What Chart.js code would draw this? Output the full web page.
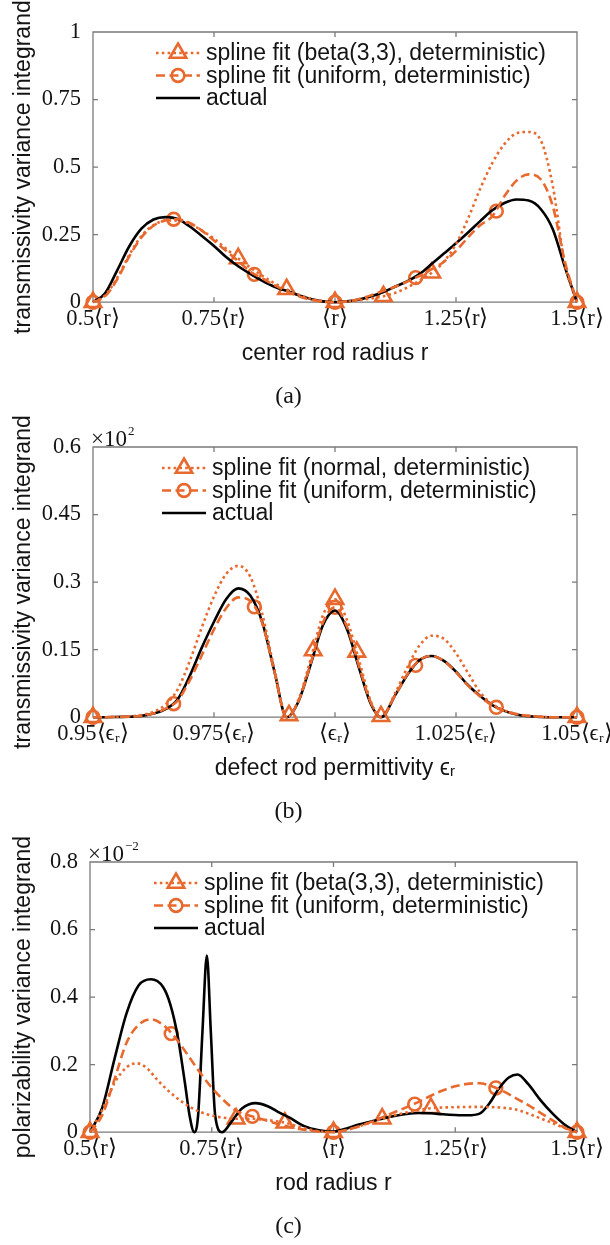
<!DOCTYPE html>
<html>
<head>
<meta charset="utf-8">
<script src="https://cdn.jsdelivr.net/npm/chart.js@4.4.1/dist/chart.umd.min.js"></script>
<style>
  html, body { margin: 0; padding: 0; background: #ffffff; }
  canvas { display: block; }
</style>
</head>
<body>
<canvas id="panelA" width="610" height="415"></canvas>
<canvas id="panelB" width="610" height="415"></canvas>
<canvas id="panelC" width="610" height="415"></canvas>
<script>
// ---------- (a) transmissivity vs. center rod radius ----------
const aRadius = [0.500,0.525,0.550,0.575,0.600,0.625,0.650,0.675,0.700,0.725,0.750,0.775,0.800,0.825,0.850,0.875,0.900,0.925,0.950,0.975,1.000,1.025,1.050,1.075,1.100,1.125,1.150,1.175,1.200,1.225,1.250,1.275,1.300,1.325,1.350,1.375,1.400,1.425,1.450,1.475,1.500];
const aActual = [0,0.033,0.118,0.207,0.272,0.306,0.315,0.308,0.280,0.245,0.208,0.167,0.133,0.105,0.079,0.057,0.042,0.026,0.012,0.003,0,0.003,0.010,0.022,0.038,0.058,0.078,0.105,0.142,0.180,0.218,0.258,0.300,0.340,0.367,0.380,0.376,0.345,0.270,0.130,0];
const aBetaFit = [0,0.025,0.090,0.175,0.245,0.285,0.302,0.303,0.290,0.265,0.235,0.198,0.162,0.128,0.098,0.070,0.048,0.028,0.013,0.004,0,0.002,0.007,0.014,0.022,0.035,0.055,0.080,0.109,0.150,0.215,0.310,0.420,0.515,0.585,0.625,0.630,0.600,0.430,0.140,0];
const aUniformFit = [0,0.022,0.085,0.170,0.240,0.283,0.303,0.307,0.293,0.265,0.228,0.190,0.152,0.113,0.088,0.063,0.041,0.022,0.009,0.002,0,0.003,0.012,0.026,0.042,0.058,0.077,0.098,0.122,0.150,0.190,0.240,0.285,0.318,0.392,0.450,0.473,0.455,0.355,0.150,0];
const aBetaNodes = [0.5,0.8,0.9,1.0,1.1,1.2,1.5];
const aBetaNodeValues = [0,0.162,0.048,0,0.022,0.109,0];
const aUniformNodes = [0.5,0.666667,0.833333,1.0,1.166667,1.333333,1.5];
const aUniformNodeValues = [0,0.307,0.103,0,0.091,0.337,0];
const aXTicks = [0.5,0.75,1,1.25,1.5];
const aXTickLabels = ['0.5⟨r⟩','0.75⟨r⟩','⟨r⟩','1.25⟨r⟩','1.5⟨r⟩'];
const aYTicks = [0,0.25,0.5,0.75,1];
const aYTickLabels = ['0','0.25','0.5','0.75','1'];

// ---------- (b) transmissivity vs. defect rod permittivity (×10²) ----------
const bPermittivity = [0.9500,0.9525,0.9550,0.9575,0.9600,0.9625,0.9650,0.9675,0.9700,0.9725,0.9750,0.9775,0.9800,0.9825,0.9850,0.9875,0.9900,0.9925,0.9950,0.9975,1.0000,1.0025,1.0050,1.0075,1.0095,1.0125,1.0150,1.0175,1.0200,1.0225,1.0250,1.0275,1.0300,1.0325,1.0350,1.0375,1.0400,1.0425,1.0450,1.0475,1.0500];
const bActual = [0,0,0.0005,0.001,0.003,0.008,0.018,0.040,0.092,0.155,0.212,0.262,0.286,0.270,0.210,0.101,0,0.036,0.118,0.204,0.237,0.195,0.108,0.027,0,0.050,0.095,0.127,0.136,0.125,0.101,0.071,0.047,0.027,0.014,0.006,0.002,0.0005,0,0,0];
const bNormalFit = [0,0,0.001,0.002,0.005,0.012,0.028,0.062,0.125,0.200,0.268,0.318,0.336,0.312,0.228,0.105,0,0.040,0.130,0.226,0.262,0.215,0.125,0.032,0,0.055,0.112,0.160,0.181,0.174,0.142,0.098,0.055,0.029,0.015,0.007,0.003,0.001,0,0,0];
const bUniformFit = [0,0,0.0005,0.001,0.003,0.008,0.019,0.037,0.082,0.138,0.195,0.242,0.266,0.258,0.208,0.100,0,0.037,0.120,0.210,0.244,0.200,0.112,0.030,0,0.050,0.096,0.127,0.136,0.125,0.100,0.070,0.046,0.026,0.014,0.007,0.003,0.001,0,0,0];
const bNormalNodes = [0.95,0.9905,0.9955,1.0,1.0045,1.0095,1.05];
const bNormalNodeValues = [0,0.004,0.148,0.262,0.145,0.002,0];
const bUniformNodes = [0.95,0.966667,0.983333,1.0,1.016667,1.033333,1.05];
const bUniformNodeValues = [0,0.030,0.245,0.244,0.115,0.022,0];
const bXTicks = [0.95,0.975,1,1.025,1.05];
const bXTickLabels = ['0.95⟨ϵᵣ⟩','0.975⟨ϵᵣ⟩','⟨ϵᵣ⟩','1.025⟨ϵᵣ⟩','1.05⟨ϵᵣ⟩'];
const bYTicks = [0,0.15,0.3,0.45,0.6];
const bYTickLabels = ['0','0.15','0.3','0.45','0.6'];

// ---------- (c) polarizability vs. rod radius (×10⁻²) ----------
const cActualRadius = [0.500,0.525,0.550,0.575,0.600,0.625,0.650,0.665,0.680,0.695,0.705,0.714,0.722,0.731,0.740,0.748,0.757,0.771,0.790,0.812,0.840,0.865,0.890,0.910,0.940,0.970,1.000,1.025,1.050,1.075,1.100,1.125,1.150,1.175,1.200,1.225,1.250,1.275,1.300,1.320,1.340,1.360,1.378,1.400,1.425,1.450,1.475,1.500];
const cActual = [0,0.072,0.215,0.352,0.435,0.453,0.430,0.378,0.285,0.145,0.045,0,0.050,0.300,0.523,0.300,0.050,0,0.030,0.070,0.086,0.077,0.057,0.043,0.018,0.006,0.002,0.010,0.022,0.031,0.040,0.048,0.054,0.057,0.056,0.053,0.051,0.050,0.055,0.085,0.130,0.162,0.171,0.142,0.095,0.055,0.022,0];
const cBetaRadius = [0.500,0.525,0.550,0.575,0.595,0.615,0.640,0.675,0.710,0.745,0.775,0.800,0.825,0.850,0.875,0.900,0.925,0.950,0.975,1.000,1.025,1.050,1.075,1.100,1.125,1.150,1.175,1.200,1.250,1.300,1.350,1.375,1.400,1.425,1.450,1.475,1.500];
const cBetaFit = [0,0.065,0.145,0.192,0.204,0.192,0.152,0.105,0.071,0.051,0.043,0.040,0.040,0.038,0.034,0.028,0.018,0.008,0.002,0,0.006,0.016,0.028,0.040,0.050,0.058,0.065,0.071,0.074,0.075,0.072,0.067,0.055,0.041,0.027,0.012,0];
const cUniformRadius = [0.500,0.525,0.550,0.575,0.600,0.625,0.650,0.675,0.700,0.725,0.750,0.775,0.800,0.825,0.850,0.875,0.900,0.925,0.950,0.975,1.000,1.025,1.050,1.075,1.100,1.125,1.150,1.175,1.200,1.225,1.250,1.275,1.300,1.325,1.350,1.375,1.400,1.425,1.450,1.475,1.500];
const cUniformFit = [0,0.050,0.155,0.265,0.318,0.334,0.318,0.280,0.230,0.178,0.132,0.094,0.064,0.050,0.040,0.029,0.019,0.011,0.005,0.001,0,0.006,0.016,0.029,0.044,0.059,0.074,0.090,0.108,0.124,0.136,0.143,0.145,0.136,0.120,0.100,0.080,0.057,0.035,0.013,0];
const cBetaNodes = [0.5,0.8,0.9,1.0,1.1,1.2,1.5];
const cBetaNodeValues = [0,0.040,0.028,0,0.040,0.071,0];
const cUniformNodes = [0.5,0.666667,0.833333,1.0,1.166667,1.333333,1.5];
const cUniformNodeValues = [0,0.292,0.047,0,0.083,0.131,0];
const cXTicks = [0.5,0.75,1,1.25,1.5];
const cXTickLabels = ['0.5⟨r⟩','0.75⟨r⟩','⟨r⟩','1.25⟨r⟩','1.5⟨r⟩'];
const cYTicks = [0,0.2,0.4,0.6,0.8];
const cYTickLabels = ['0','0.2','0.4','0.6','0.8'];

// ---------- styling ----------
const ORANGE = '#E8692E';
const INK = '#141414';
const SANS = '"Liberation Sans", Arial, Helvetica, sans-serif';
const SERIF = '"Liberation Serif", "Times New Roman", serif';
const DOTTED = [2.6, 3.2];
const DASHED = [9, 4.5];

const toPoints = (xs, ys) => xs.map((x, i) => ({ x, y: ys[i] }));

function curve(label, xs, ys, color, dash) {
  return {
    label, data: toPoints(xs, ys),
    borderColor: color, borderWidth: 2.6, borderDash: dash,
    borderJoinStyle: 'round', cubicInterpolationMode: 'monotone',
    pointRadius: 0, pointHoverRadius: 0, fill: false, clip: false
  };
}
function markers(xs, ys, style, radius) {
  return {
    label: style, data: toPoints(xs, ys), showLine: false,
    pointStyle: style, pointRadius: radius, pointHoverRadius: radius,
    pointBorderColor: ORANGE, pointBorderWidth: 2.6,
    pointBackgroundColor: 'rgba(0,0,0,0)', clip: false
  };
}

// box around the axes with inward ticks on all four sides
const axesBox = {
  id: 'axesBox',
  beforeDatasetsDraw(chart, _a, o) {
    const { ctx, chartArea: a, scales } = chart;
    const L = o.tickLength;
    ctx.save();
    ctx.strokeStyle = o.color;
    ctx.lineWidth = o.lineWidth;
    ctx.beginPath();
    ctx.rect(a.left, a.top, a.right - a.left, a.bottom - a.top);
    scales.x.ticks.forEach(t => {
      const px = scales.x.getPixelForValue(t.value);
      ctx.moveTo(px, a.bottom); ctx.lineTo(px, a.bottom - L);
      ctx.moveTo(px, a.top); ctx.lineTo(px, a.top + L);
    });
    scales.y.ticks.forEach(t => {
      const py = scales.y.getPixelForValue(t.value);
      ctx.moveTo(a.left, py); ctx.lineTo(a.left + L, py);
      ctx.moveTo(a.right, py); ctx.lineTo(a.right - L, py);
    });
    ctx.stroke();
    ctx.restore();
  }
};

// legend rows: line sample with its marker in the middle, then the label
const curveLegend = {
  id: 'curveLegend',
  afterDatasetsDraw(chart, _a, o) {
    const { ctx, chartArea } = chart;
    const ds = chart.data.datasets;
    ctx.save();
    o.rows.forEach((row, i) => {
      const y = chartArea.top + o.top + i * o.rowGap;
      const line = ds[row.line];
      ctx.beginPath();
      ctx.setLineDash(line.borderDash || []);
      ctx.lineWidth = line.borderWidth;
      ctx.strokeStyle = line.borderColor;
      ctx.moveTo(o.left, y);
      ctx.lineTo(o.left + o.sample, y);
      ctx.stroke();
      ctx.setLineDash([]);
      if (row.marker !== undefined) {
        const m = ds[row.marker];
        ctx.strokeStyle = m.pointBorderColor;
        ctx.fillStyle = 'rgba(0,0,0,0)';
        ctx.lineWidth = m.pointBorderWidth;
        Chart.helpers.drawPoint(ctx, {
          pointStyle: m.pointStyle, radius: m.pointRadius,
          rotation: 0, borderWidth: m.pointBorderWidth
        }, o.left + o.sample / 2, y);
      }
      ctx.fillStyle = INK;
      ctx.font = o.font;
      ctx.textAlign = 'left';
      ctx.textBaseline = 'middle';
      ctx.fillText(line.label, o.left + o.sample + o.gap, y + 1);
    });
    ctx.restore();
  }
};

// "×10^n" multiplier over the top of the y axis
const axisExponent = {
  id: 'axisExponent',
  afterDraw(chart, _a, o) {
    if (!o.power) return;
    const { ctx, chartArea: a } = chart;
    ctx.save();
    ctx.fillStyle = INK;
    ctx.textAlign = 'left';
    ctx.textBaseline = 'alphabetic';
    ctx.font = '23px ' + SERIF;
    const base = '×10';
    ctx.fillText(base, a.left - 2, a.top - 1);
    const w = ctx.measureText(base).width;
    ctx.font = '13px ' + SERIF;
    ctx.fillText(o.power, a.left - 1 + w, a.top - 12);
    ctx.restore();
  }
};

function buildPanel(id, p) {
  const datasets = [
    curve(p.fitLabels[0], p.fitX[0], p.fitY[0], ORANGE, DOTTED),
    curve(p.fitLabels[1], p.fitX[1], p.fitY[1], ORANGE, DASHED),
    curve('actual', p.actualX, p.actualY, '#000000', []),
    markers(p.nodesX[0], p.nodesY[0], 'triangle', 9.5),
    markers(p.nodesX[1], p.nodesY[1], 'circle', 6.4)
  ];
  new Chart(document.getElementById(id), {
    type: 'line',
    data: { datasets },
    plugins: [axesBox, curveLegend, axisExponent],
    options: {
      responsive: false, animation: false, events: [],
      layout: { padding: { top: 32, right: 33, bottom: 0, left: 0 } },
      scales: {
        x: {
          type: 'linear', min: p.xTicks[0], max: p.xTicks[p.xTicks.length - 1],
          afterBuildTicks: s => { s.ticks = p.xTicks.map(v => ({ value: v })); },
          afterFit: s => { s.height = 80; s.paddingLeft = 0; s.paddingRight = 0; },
          grid: { display: false, drawTicks: false }, border: { display: false },
          ticks: {
            autoSkip: false, maxRotation: 0, minRotation: 0, padding: 3, color: INK,
            font: { family: SERIF, size: 22.5 },
            callback: (v, i) => p.xTickLabels[i]
          },
          title: {
            display: true, text: p.xTitle, color: INK,
            font: { family: SANS, size: 23 }, padding: { top: 0, bottom: 15 }
          }
        },
        y: {
          type: 'linear', min: p.yTicks[0], max: p.yTicks[p.yTicks.length - 1],
          afterBuildTicks: s => { s.ticks = p.yTicks.map(v => ({ value: v })); },
          afterFit: s => { s.width = p.yAxisWidth; s.paddingTop = 0; s.paddingBottom = 0; },
          grid: { display: false, drawTicks: false }, border: { display: false },
          ticks: {
            padding: 12, color: INK, font: { family: SERIF, size: 22.5 },
            callback: (v, i) => p.yTickLabels[i]
          },
          title: {
            display: true, text: p.yTitle, color: INK,
            font: { family: SANS, size: 23 }, padding: { top: 10, bottom: 0 }
          }
        }
      },
      plugins: {
        legend: { display: false },
        tooltip: { enabled: false },
        title: {
          display: true, position: 'bottom', text: p.caption, color: INK,
          font: { family: SERIF, size: 24, weight: 'normal' },
          padding: { top: 0, bottom: 4 }
        },
        axesBox: { color: '#7a7a7a', lineWidth: 1.3, tickLength: 5 },
        curveLegend: {
          left: p.legendLeft, top: 21, rowGap: 22.5, sample: 44, gap: 6,
          font: '23px ' + SANS,
          rows: [{ line: 0, marker: 3 }, { line: 1, marker: 4 }, { line: 2 }]
        },
        axisExponent: { power: p.power }
      }
    }
  });
}

buildPanel('panelA', {
  fitLabels: ['spline fit (beta(3,3), deterministic)', 'spline fit (uniform, deterministic)'],
  fitX: [aRadius, aRadius], fitY: [aBetaFit, aUniformFit],
  actualX: aRadius, actualY: aActual,
  nodesX: [aBetaNodes, aUniformNodes], nodesY: [aBetaNodeValues, aUniformNodeValues],
  xTicks: aXTicks, xTickLabels: aXTickLabels, yTicks: aYTicks, yTickLabels: aYTickLabels,
  xTitle: 'center rod radius r', yTitle: 'transmissivity variance integrand',
  caption: '(a)', power: null, yAxisWidth: 93, legendLeft: 156
});

buildPanel('panelB', {
  fitLabels: ['spline fit (normal, deterministic)', 'spline fit (uniform, deterministic)'],
  fitX: [bPermittivity, bPermittivity], fitY: [bNormalFit, bUniformFit],
  actualX: bPermittivity, actualY: bActual,
  nodesX: [bNormalNodes, bUniformNodes], nodesY: [bNormalNodeValues, bUniformNodeValues],
  xTicks: bXTicks, xTickLabels: bXTickLabels, yTicks: bYTicks, yTickLabels: bYTickLabels,
  xTitle: 'defect rod permittivity ϵᵣ', yTitle: 'transmissivity variance integrand',
  caption: '(b)', power: '2', yAxisWidth: 93, legendLeft: 162
});

buildPanel('panelC', {
  fitLabels: ['spline fit (beta(3,3), deterministic)', 'spline fit (uniform, deterministic)'],
  fitX: [cBetaRadius, cUniformRadius], fitY: [cBetaFit, cUniformFit],
  actualX: cActualRadius, actualY: cActual,
  nodesX: [cBetaNodes, cUniformNodes], nodesY: [cBetaNodeValues, cUniformNodeValues],
  xTicks: cXTicks, xTickLabels: cXTickLabels, yTicks: cYTicks, yTickLabels: cYTickLabels,
  xTitle: 'rod radius r', yTitle: 'polarizability variance integrand',
  caption: '(c)', power: '−2', yAxisWidth: 90, legendLeft: 154
});
</script>
</body>
</html>
